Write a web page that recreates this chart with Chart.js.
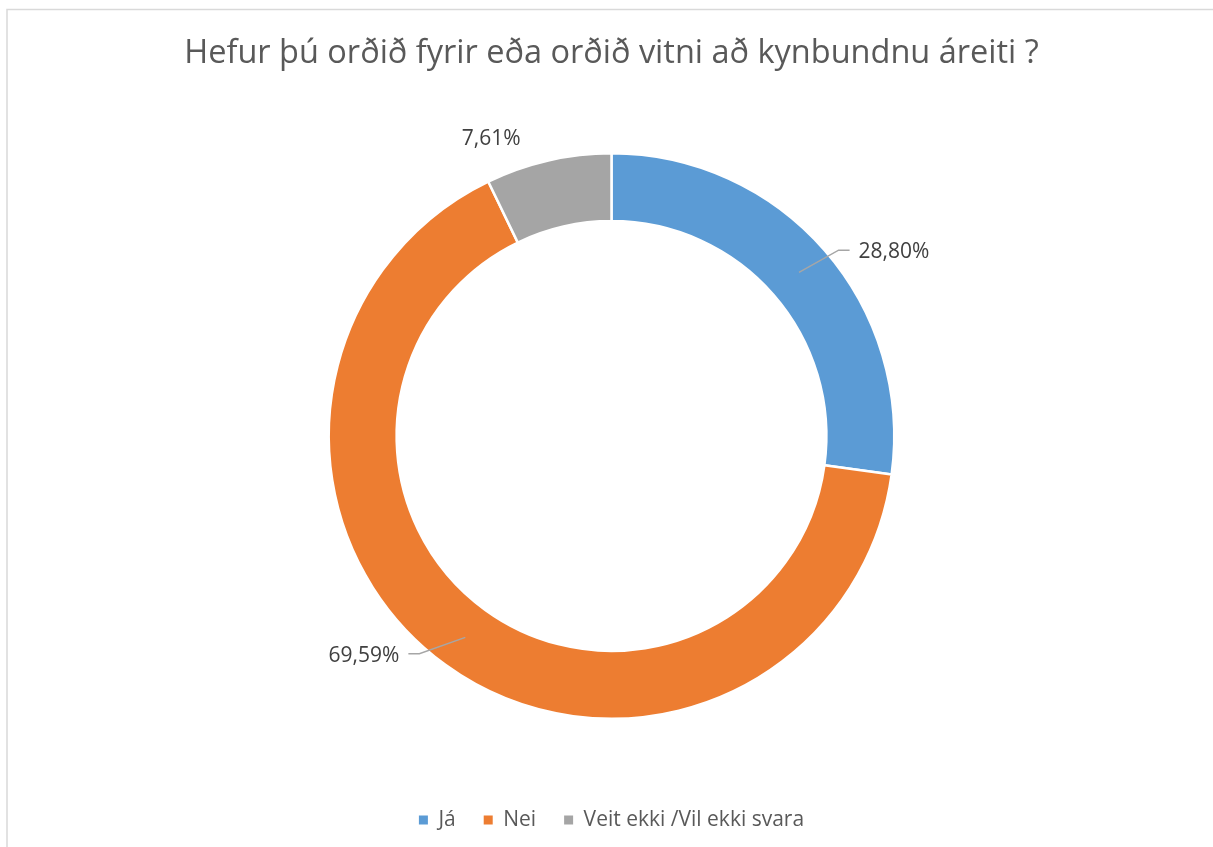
<!DOCTYPE html>
<html>
<head>
<meta charset="utf-8">
<script src="https://cdn.jsdelivr.net/npm/chart.js@4/dist/chart.umd.min.js"></script>
<style>
  html, body { margin: 0; padding: 0; background: #ffffff; overflow: hidden; }
  #wrap { position: relative; width: 1213px; height: 847px; }
</style>
</head>
<body>
<div id="wrap"><canvas id="c"></canvas></div>
<script>
const titleText = 'Hefur þú orðið fyrir eða orðið vitni að kynbundnu áreiti ?';
const categories = ['Já', 'Nei', 'Veit ekki /Vil ekki svara'];
const percentages = [28.80, 69.59, 7.61];
const sliceColors = ['#5B9BD5', '#ED7D31', '#A5A5A5'];

// Where each value label sits, relative to the outer edge at the slice's middle angle
const labelPlacement = [
  { dx: 14, dy: 0, side: 'right', leader: true },
  { dx: -26, dy: -11, side: 'left', leader: true },
  { dx: -57, dy: -21, side: 'center', leader: false }
];

const FONT = "'Open Sans', 'DejaVu Sans', sans-serif";

// Light grey frame around the chart
const framePlugin = {
  id: 'frame',
  beforeDraw(chart) {
    const ctx = chart.ctx;
    ctx.save();
    ctx.strokeStyle = '#d9d9d9';
    ctx.lineWidth = 1.5;
    ctx.beginPath();
    ctx.moveTo(7, chart.height + 5);
    ctx.lineTo(7, 9.5);
    ctx.lineTo(chart.width + 5, 9.5);
    ctx.stroke();
    ctx.restore();
  }
};

// Percentage labels with leader lines
const valueLabelPlugin = {
  id: 'valueLabels',
  afterDatasetsDraw(chart) {
    const ctx = chart.ctx;
    const meta = chart.getDatasetMeta(0);
    ctx.save();
    ctx.font = '21px ' + FONT;
    ctx.fillStyle = '#404040';
    ctx.textBaseline = 'middle';
    meta.data.forEach((arc, i) => {
      const p = arc.getProps(['x', 'y', 'startAngle', 'endAngle', 'innerRadius', 'outerRadius'], true);
      const mid = (p.startAngle + p.endAngle) / 2;
      const midR = (p.innerRadius + p.outerRadius) / 2;
      const ox = p.x + Math.cos(mid) * p.outerRadius;
      const oy = p.y + Math.sin(mid) * p.outerRadius;
      const pl = labelPlacement[i];
      const ex = ox + pl.dx;
      const ey = oy + pl.dy;
      const text = percentages[i].toFixed(2).replace('.', ',') + '%';
      if (pl.leader) {
        const dir = pl.side === 'right' ? 1 : -1;
        ctx.strokeStyle = '#a6a6a6';
        ctx.lineWidth = 1.5;
        ctx.beginPath();
        ctx.moveTo(p.x + Math.cos(mid) * midR, p.y + Math.sin(mid) * midR);
        ctx.lineTo(ex, ey);
        ctx.lineTo(ex + dir * 11, ey);
        ctx.stroke();
        ctx.textAlign = pl.side === 'right' ? 'left' : 'right';
        ctx.fillText(text, ex + dir * 20, ey + 2);
      } else {
        ctx.textAlign = 'center';
        ctx.fillText(text, ex, ey);
      }
    });
    ctx.restore();
  }
};

new Chart(document.getElementById('c'), {
  type: 'doughnut',
  data: {
    labels: categories,
    datasets: [{
      data: percentages,
      backgroundColor: sliceColors,
      borderColor: '#ffffff',
      borderWidth: 2.5,
      hoverOffset: 0
    }]
  },
  options: {
    responsive: true,
    maintainAspectRatio: false,
    animation: false,
    cutout: '76%',
    layout: { padding: { top: 0, left: 10, right: 0, bottom: 6.5 } },
    plugins: {
      tooltip: { enabled: false },
      title: {
        display: true,
        text: titleText,
        color: '#595959',
        font: { family: FONT, size: 32.5, weight: 'normal', lineHeight: 1.2 },
        padding: { top: 34.5, bottom: 78.5 }
      },
      legend: {
        display: true,
        position: 'bottom',
        title: { display: true, text: '', font: { size: 10, lineHeight: 1.2 }, padding: { top: 49.5, bottom: 0 } },
        labels: {
          color: '#595959',
          font: { family: FONT, size: 21 },
          usePointStyle: true,
          pointStyle: 'rect',
          boxWidth: 9,
          boxHeight: 9,
          padding: 28,
          generateLabels(chart) {
            const items = Chart.overrides.doughnut.plugins.legend.labels.generateLabels(chart);
            items.forEach(it => { it.lineWidth = 0; it.strokeStyle = it.fillStyle; });
            return items;
          }
        }
      }
    }
  },
  plugins: [framePlugin, valueLabelPlugin]
});
</script>
</body>
</html>
